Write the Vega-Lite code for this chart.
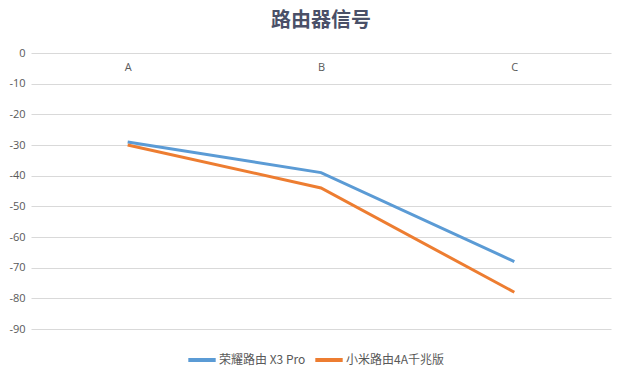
{
  "$schema": "https://vega.github.io/schema/vega-lite/v6.json",
  "width": 580,
  "height": 276,
  "autosize": {"type": "none"},
  "padding": {"left": 31, "top": 53, "right": 9, "bottom": 46},
  "background": "white",
  "title": {
    "text": "路由器信号",
    "font": "Noto Sans CJK SC",
    "fontSize": 20,
    "fontWeight": "bold",
    "color": "#4a5068",
    "anchor": "middle",
    "offset": 16
  },
  "config": {
    "view": {"stroke": null},
    "font": "Noto Sans CJK SC"
  },
  "data": {
    "values": [
      {"cat": "A", "series": "荣耀路由 X3 Pro", "value": -29},
      {"cat": "B", "series": "荣耀路由 X3 Pro", "value": -39},
      {"cat": "C", "series": "荣耀路由 X3 Pro", "value": -68},
      {"cat": "A", "series": "小米路由4A千兆版", "value": -30},
      {"cat": "B", "series": "小米路由4A千兆版", "value": -44},
      {"cat": "C", "series": "小米路由4A千兆版", "value": -78}
    ]
  },
  "mark": {"type": "line", "strokeWidth": 3},
  "encoding": {
    "x": {
      "field": "cat",
      "type": "nominal",
      "title": null,
      "scale": {"type": "point", "padding": 0.5},
      "axis": {
        "orient": "bottom",
        "offset": -276,
        "domain": false,
        "ticks": false,
        "grid": false,
        "labelAngle": 0,
        "labelColor": "#595959",
        "labelFontSize": 11,
        "labelPadding": 8,
        "labelFont": "Open Sans"
      }
    },
    "y": {
      "field": "value",
      "type": "quantitative",
      "title": null,
      "scale": {"domain": [-90, 0], "nice": false, "zero": false},
      "axis": {
        "values": [0, -10, -20, -30, -40, -50, -60, -70, -80, -90],
        "labelExpr": "replace(datum.label, '\u2212', '-')",
        "domain": false,
        "ticks": false,
        "gridColor": "#d9d9d9",
        "gridWidth": 1,
        "labelColor": "#595959",
        "labelFontSize": 11,
        "labelPadding": 6,
        "labelFont": "Open Sans"
      }
    },
    "color": {
      "field": "series",
      "type": "nominal",
      "sort": ["荣耀路由 X3 Pro", "小米路由4A千兆版"],
      "scale": {"domain": ["荣耀路由 X3 Pro", "小米路由4A千兆版"], "range": ["#5B9BD5", "#ED7D31"]},
      "legend": {
        "title": null,
        "orient": "none",
        "legendX": 155,
        "legendY": 291,
        "direction": "horizontal",
        "symbolType": "stroke",
        "symbolSize": 750,
        "symbolStrokeWidth": 4,
        "labelFontSize": 12,
        "labelColor": "#595959",
        "columnPadding": 1,
        "labelOffset": 1
      }
    }
  }
}
